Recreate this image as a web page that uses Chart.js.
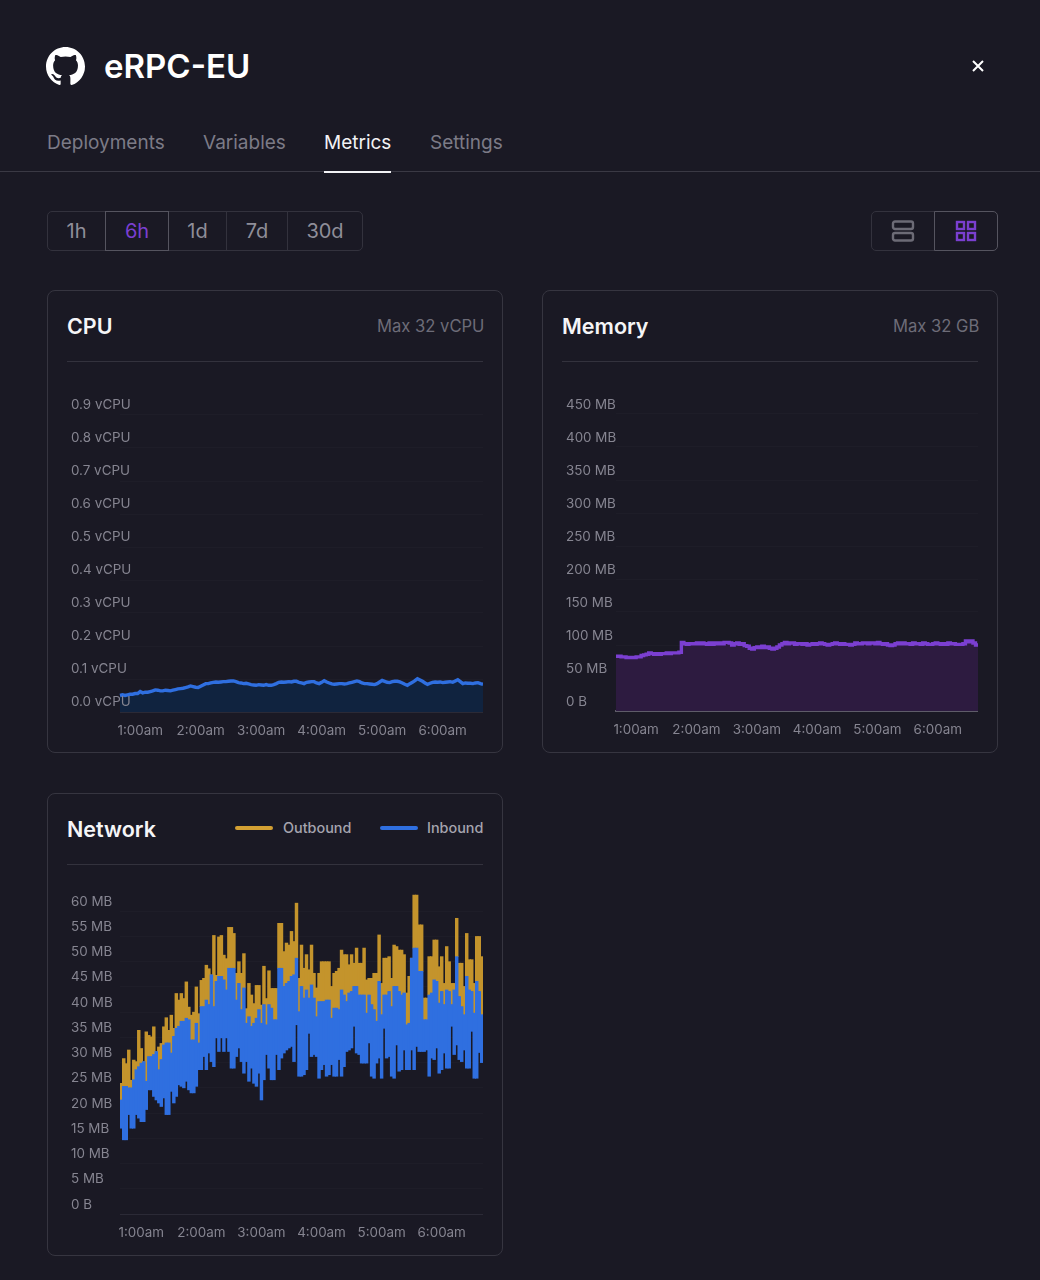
<!DOCTYPE html>
<html>
<head>
<meta charset="utf-8">
<title>eRPC-EU Metrics</title>
<script src="https://cdn.jsdelivr.net/npm/chart.js@4"></script>
<style>
  * { box-sizing: border-box; }
  html, body { margin: 0; padding: 0; }
  body { width: 1040px; height: 1280px; background: #1a1924; font-family: Inter, sans-serif; position: relative; overflow: hidden; color: #fff; }
  .abs { position: absolute; }
  .logo { left: 46px; top: 47px; width: 39px; height: 39px; fill: #fff; }
  .name { left: 104px; top: 45px; font-size: 33px; line-height: 42px; font-weight: 600; }
  .close { left: 971px; top: 59px; width: 14px; height: 14px; stroke: #fff; stroke-width: 2; }
  .tab { top: 131px; font-size: 19px; line-height: 24px; color: #7c7b87; }
  .tab.on { color: #f2f2f5; }
  .tabline { left: 0; top: 171px; width: 1040px; height: 1px; background: #3a3944; }
  .tabmark { left: 324px; top: 171px; width: 67px; height: 2px; background: #f2f2f5; }
  .range { top: 211px; height: 40px; border: 1px solid #33323d; font-size: 20px; line-height: 38px; text-align: center; color: #8f8e99; }
  .range.on { border-color: #55545f; color: #7a3fd0; z-index: 1; }
  .card { border: 1px solid #363540; border-radius: 8px; }
  .title { font-size: 21.5px; line-height: 28px; font-weight: 600; color: #f5f5f7; }
  .max { font-size: 16.6px; line-height: 22px; color: #6d6c78; white-space: nowrap; overflow: hidden; }
  .rule { height: 1px; background: #33323d; }
  .legend { top: 819px; font-size: 14.4px; line-height: 18px; font-weight: 500; color: #a5a4ae; }
  .swatch { top: 826px; width: 38px; height: 4px; border-radius: 2px; }
  canvas { position: absolute; display: block; }
</style>
</head>
<body>
<svg class="abs logo" viewBox="0 0 16 16"><path d="M8 0C3.58 0 0 3.58 0 8c0 3.54 2.29 6.53 5.47 7.59.4.07.55-.17.55-.38 0-.19-.01-.82-.01-1.49-2.01.37-2.53-.49-2.69-.94-.09-.23-.48-.94-.82-1.13-.28-.15-.68-.52-.01-.53.63-.01 1.08.58 1.23.82.72 1.21 1.87.87 2.33.66.07-.52.28-.87.51-1.07-1.78-.2-3.64-.89-3.64-3.95 0-.87.31-1.59.82-2.15-.08-.2-.36-1.02.08-2.12 0 0 .67-.21 2.2.82.64-.18 1.32-.27 2-.27.68 0 1.36.09 2 .27 1.53-1.04 2.2-.82 2.2-.82.44 1.1.16 1.92.08 2.12.51.56.82 1.27.82 2.15 0 3.07-1.87 3.75-3.65 3.95.29.25.54.73.54 1.48 0 1.07-.01 1.93-.01 2.2 0 .21.15.46.55.38A8.013 8.013 0 0016 8c0-4.42-3.58-8-8-8z"/></svg>
<div class="abs name">eRPC-EU</div>
<svg class="abs close" viewBox="0 0 14 14"><path d="M2 2L12 12M12 2L2 12"/></svg>

<div class="abs tab" style="left:47px">Deployments</div>
<div class="abs tab" style="left:203px">Variables</div>
<div class="abs tab on" style="left:324px">Metrics</div>
<div class="abs tab" style="left:430px">Settings</div>
<div class="abs tabline"></div>
<div class="abs tabmark"></div>

<div class="abs range" style="left:47px;width:59px;border-radius:5px 0 0 5px">1h</div>
<div class="abs range on" style="left:105px;width:64px">6h</div>
<div class="abs range" style="left:168px;width:59px">1d</div>
<div class="abs range" style="left:226px;width:62px">7d</div>
<div class="abs range" style="left:287px;width:76px;border-radius:0 5px 5px 0"><span>30d</span></div>

<div class="abs range" style="left:871px;width:64px;border-radius:5px 0 0 5px"></div>
<div class="abs range on" style="left:934px;width:64px;border-radius:0 5px 5px 0"></div>
<svg class="abs" style="left:891px;top:220px;z-index:2" width="24" height="22" fill="none" stroke="#6c6b76" stroke-width="2.4"><rect x="2" y="1.5" width="20" height="7.5" rx="2"/><rect x="2" y="13" width="20" height="7.5" rx="2"/></svg>
<svg class="abs" style="left:955px;top:220px;z-index:2" width="22" height="22" fill="none" stroke="#7a3fd0" stroke-width="2.4"><rect x="2" y="2" width="7" height="7"/><rect x="13" y="2" width="7" height="7"/><rect x="2" y="13" width="7" height="7"/><rect x="13" y="13" width="7" height="7"/></svg>

<div class="abs card" style="left:47px;top:290px;width:456px;height:463px"></div>
<div class="abs title" style="left:67px;top:312px">CPU</div>
<div class="abs max" style="left:377px;top:315px;width:108px">Max 32 vCPU</div>
<div class="abs rule" style="left:67px;top:361px;width:416px"></div>
<canvas id="cpuChart" width="412" height="358" style="left:71px;top:382px"></canvas>

<div class="abs card" style="left:542px;top:290px;width:456px;height:463px"></div>
<div class="abs title" style="left:562px;top:312px">Memory</div>
<div class="abs max" style="left:893px;top:315px;width:85.5px">Max 32 GB</div>
<div class="abs rule" style="left:562px;top:361px;width:416px"></div>
<canvas id="memoryChart" width="412" height="358" style="left:566px;top:381px"></canvas>

<div class="abs card" style="left:47px;top:793px;width:456px;height:463px"></div>
<div class="abs title" style="left:67px;top:815px">Network</div>
<div class="abs swatch" style="left:235px;background:#d3a033"></div>
<div class="abs legend" style="left:283px">Outbound</div>
<div class="abs swatch" style="left:380px;background:#2f6fe0"></div>
<div class="abs legend" style="left:427px">Inbound</div>
<div class="abs rule" style="left:67px;top:864px;width:416px"></div>
<canvas id="networkChart" width="412" height="356" style="left:71px;top:886px"></canvas>

<script>
// all three charts share the same 145 samples, 2.5 minutes apart, first at 12:40am
const hourLabels = ['1:00am', '2:00am', '3:00am', '4:00am', '5:00am', '6:00am']
const firstHourIndex = 8
const samplesPerHour = 24

const cpuTickLabels = ['0.0 vCPU', '0.1 vCPU', '0.2 vCPU', '0.3 vCPU', '0.4 vCPU', '0.5 vCPU', '0.6 vCPU', '0.7 vCPU', '0.8 vCPU', '0.9 vCPU']
const memoryTickLabels = ['0 B', '50 MB', '100 MB', '150 MB', '200 MB', '250 MB', '300 MB', '350 MB', '400 MB', '450 MB']
const networkTickLabels = ['0 B', '5 MB', '10 MB', '15 MB', '20 MB', '25 MB', '30 MB', '35 MB', '40 MB', '45 MB', '50 MB', '55 MB', '60 MB']

// vCPU
const cpuValues = [
  .050, .052, .050, .052, .054, .054, .056, .056, .062, .058,
  .060, .060, .062, .064, .067, .066, .064, .064, .066, .065,
  .064, .066, .068, .070, .071, .072, .074, .076, .079, .077,
  .075, .074, .078, .082, .086, .086, .088, .090, .091, .090,
  .091, .092, .092, .093, .094, .094, .092, .089, .088, .086,
  .087, .085, .083, .082, .081, .083, .082, .081, .083, .081,
  .081, .083, .086, .090, .091, .090, .091, .092, .091, .093,
  .093, .090, .088, .086, .090, .091, .092, .092, .088, .086,
  .090, .095, .091, .088, .085, .084, .085, .086, .086, .085,
  .086, .088, .090, .092, .094, .092, .088, .086, .086, .085,
  .084, .083, .086, .091, .096, .093, .090, .089, .092, .093,
  .093, .091, .088, .084, .081, .086, .090, .095, .101, .097,
  .093, .088, .084, .087, .090, .091, .090, .091, .089, .090,
  .091, .092, .090, .094, .098, .092, .086, .088, .087, .087,
  .086, .088, .089, .086, .084
]

// MB
const memoryValues = [
  83, 83, 82, 82, 81, 81, 81, 81, 82, 82,
  84, 85, 86, 88, 87, 86, 87, 86, 87, 87,
  88, 87, 88, 88, 88, 89, 104, 102, 101, 102,
  102, 102, 103, 102, 103, 102, 101, 103, 101, 103,
  102, 103, 102, 104, 104, 103, 100, 102, 103, 101,
  102, 99, 98, 95, 94, 96, 97, 96, 98, 96,
  97, 95, 94, 95, 97, 100, 102, 104, 102, 103,
  103, 101, 102, 102, 101, 102, 100, 101, 102, 101,
  102, 103, 102, 101, 100, 101, 102, 103, 102, 101,
  102, 101, 101, 100, 101, 103, 102, 102, 103, 103,
  102, 103, 103, 102, 104, 102, 101, 102, 100, 99,
  100, 102, 103, 102, 103, 102, 102, 101, 103, 102,
  102, 101, 103, 102, 101, 101, 102, 103, 102, 101,
  102, 101, 103, 102, 102, 101, 101, 101, 102, 106,
  105, 106, 103, 100, 99
]

// MB, bottom and top of each inbound bar, top of each outbound bar
const inboundLow = [
  17.0, 14.7, 14.7, 19.7, 17.0, 17.0, 19.7, 19.0, 18.3, 18.3,
  20.7, 24.6, 24.6, 23.3, 22.6, 22.0, 21.3, 23.0, 19.7, 19.7,
  24.3, 22.0, 23.3, 25.6, 25.3, 25.0, 26.3, 24.6, 24.0, 24.0,
  25.3, 28.6, 28.6, 31.2, 28.6, 31.9, 30.2, 29.2, 34.9, 32.2,
  34.9, 32.2, 34.9, 32.2, 28.9, 28.9, 31.2, 32.9, 30.2, 27.9,
  30.2, 26.3, 28.9, 25.9, 25.3, 27.9, 22.6, 26.6, 31.6, 28.9,
  26.6, 26.6, 31.6, 28.6, 30.9, 31.9, 32.5, 32.9, 33.2, 30.2,
  37.5, 27.3, 27.3, 27.6, 28.6, 35.8, 31.2, 31.6, 31.2, 26.9,
  28.6, 29.6, 27.3, 27.6, 29.6, 27.3, 27.3, 30.6, 27.3, 29.2,
  32.2, 32.5, 32.9, 37.2, 31.9, 31.6, 29.9, 29.9, 29.9, 33.9,
  27.3, 26.9, 29.9, 30.9, 26.9, 36.8, 30.9, 31.2, 27.3, 26.9,
  33.5, 28.3, 28.6, 32.5, 28.6, 28.6, 32.5, 28.6, 33.2, 32.2,
  32.2, 32.2, 32.5, 27.3, 30.9, 30.6, 32.9, 27.9, 28.6, 31.9,
  28.9, 28.9, 37.2, 31.6, 33.5, 30.6, 30.2, 32.5, 28.9, 28.9,
  36.2, 26.9, 26.9, 32.0, 30.0
]
const inboundHigh = [
  22.6, 25.3, 25.3, 25.0, 25.0, 26.6, 28.6, 29.2, 29.9, 30.2,
  26.3, 31.2, 31.2, 31.6, 32.2, 28.6, 30.6, 33.5, 33.9, 33.9,
  31.9, 35.2, 36.8, 37.2, 38.2, 38.2, 38.8, 38.5, 34.5, 34.5,
  37.8, 33.9, 41.1, 41.1, 42.4, 41.5, 47.4, 41.1, 46.1, 47.1,
  47.1, 46.4, 44.4, 48.7, 48.7, 48.7, 42.4, 45.7, 40.5, 44.8,
  37.8, 39.1, 37.2, 37.8, 38.8, 40.5, 37.8, 41.5, 37.5, 41.5,
  40.8, 38.5, 38.5, 48.7, 48.7, 45.1, 45.7, 46.1, 47.1, 47.4,
  50.7, 40.1, 45.1, 42.8, 44.4, 42.8, 45.4, 42.8, 39.1, 42.1,
  42.1, 42.1, 42.4, 42.4, 38.8, 40.8, 40.8, 40.5, 44.4, 43.4,
  42.1, 43.8, 44.1, 45.1, 45.1, 43.4, 43.4, 43.4, 39.8, 43.4,
  41.5, 40.5, 38.2, 46.1, 39.5, 43.4, 43.4, 44.1, 41.1, 45.1,
  45.1, 44.1, 43.4, 43.8, 37.5, 37.8, 50.7, 52.7, 52.7, 48.1,
  48.1, 38.5, 38.5, 43.4, 43.8, 46.4, 46.1, 41.8, 44.1, 41.5,
  44.4, 44.1, 41.5, 44.4, 51.0, 43.1, 41.1, 39.5, 47.1, 44.4,
  44.1, 39.8, 46.1, 44.1, 39.5
]
const outboundHigh = [
  25.9, 30.8, 29.8, 32.5, 26.5, 30.5, 30.2, 36.4, 32.8, 30.2,
  36.1, 35.4, 35.1, 37.1, 31.8, 33.1, 33.8, 37.1, 38.9, 36.4,
  39.4, 36.8, 43.7, 42.4, 43.7, 42.7, 46.0, 41.0, 39.4, 40.0,
  45.0, 39.7, 46.3, 46.7, 49.3, 48.6, 47.3, 55.2, 47.3, 54.9,
  55.2, 51.3, 50.6, 56.8, 56.8, 55.6, 47.7, 50.0, 47.7, 51.6,
  40.7, 45.7, 43.4, 41.7, 45.3, 45.3, 41.4, 49.1, 42.7, 48.2,
  44.7, 44.7, 44.7, 57.6, 57.6, 52.0, 53.7, 53.3, 56.0, 54.0,
  61.6, 46.7, 53.3, 48.7, 51.4, 48.4, 53.3, 47.7, 44.8, 47.7,
  50.0, 50.0, 50.0, 50.0, 45.1, 47.7, 48.1, 48.7, 52.3, 51.4,
  51.4, 49.4, 51.4, 49.7, 52.7, 49.7, 49.7, 52.7, 46.4, 46.7,
  46.7, 47.7, 47.7, 55.3, 45.7, 50.7, 50.7, 51.0, 46.7, 53.3,
  53.0, 52.3, 52.3, 51.4, 43.8, 47.1, 47.1, 63.2, 63.2, 57.3,
  57.3, 42.8, 42.8, 51.0, 51.0, 54.3, 54.3, 49.0, 51.0, 45.7,
  53.0, 50.0, 45.7, 45.7, 58.6, 49.7, 49.7, 45.1, 55.6, 50.4,
  50.4, 45.7, 55.0, 55.0, 51.0
]

const sampleIndexes = cpuValues.map((_, i) => i)

Chart.defaults.font.family = 'Inter, sans-serif'
Chart.defaults.font.size = 13.4
Chart.defaults.color = '#868591'

function xAxis(offset, borderColor, borderWidth) {
  return {
    offset: offset,
    grid: { display: false },
    border: { color: borderColor, width: borderWidth },
    afterFit: scale => { scale.height = 28 },
    ticks: {
      autoSkip: false,
      maxRotation: 0,
      padding: 3,
      callback: (value, i) => hourLabels[(i - firstHourIndex) / samplesPerHour]
    }
  }
}

function yAxis(tickLabels, max, step, yAxisWidth, labelOffset) {
  return {
    min: 0,
    max: max,
    grid: {
      drawTicks: false,
      color: ctx => ctx.index < tickLabels.length ? '#1e1d28' : 'transparent'
    },
    border: { display: false },
    afterFit: scale => { scale.width = yAxisWidth },
    ticks: {
      stepSize: step,
      autoSkip: false,
      includeBounds: false,
      mirror: true,
      crossAlign: 'near',
      padding: -yAxisWidth, // labels sit left of the plot, over the axis box
      labelOffset: labelOffset,
      z: 1,
      callback: (value, i) => tickLabels[i]
    }
  }
}

function areaChart(id, values, tickLabels, max, step, yAxisWidth, labelOffset, color, fillColor, stepped, borderColor, borderWidth) {
  new Chart(document.getElementById(id), {
    type: 'line',
    data: {
      labels: sampleIndexes,
      datasets: [{
        data: values,
        borderColor: color,
        backgroundColor: fillColor,
        borderWidth: 3.4,
        pointRadius: 0,
        stepped: stepped,
        fill: 'origin'
      }]
    },
    options: {
      responsive: false,
      animation: false,
      layout: { autoPadding: false },
      plugins: { legend: { display: false }, tooltip: { enabled: false } },
      scales: {
        x: xAxis(false, borderColor, borderWidth),
        y: yAxis(tickLabels, max, step, yAxisWidth, labelOffset)
      }
    }
  })
}

areaChart('cpuChart', cpuValues, cpuTickLabels, 1, 0.1, 49, -10, '#2f6fe0', '#10233f', false, '#2b2a36', 1)
areaChart('memoryChart', memoryValues, memoryTickLabels, 500, 50, 50, -9, '#7b3fd1', '#2d1b40', true, '#5e5c69', 2)

new Chart(document.getElementById('networkChart'), {
  type: 'bar',
  data: {
    labels: sampleIndexes,
    datasets: [
      {
        label: 'Outbound',
        data: sampleIndexes.map(i => [inboundHigh[i], outboundHigh[i]]),
        backgroundColor: '#c4942c',
        order: 1,
        grouped: false
      },
      {
        label: 'Inbound',
        data: sampleIndexes.map(i => [inboundLow[i], inboundHigh[i]]),
        backgroundColor: '#2f6fe0',
        order: 0,
        grouped: false
      }
    ]
  },
  options: {
    responsive: false,
    animation: false,
    barPercentage: 1,
    categoryPercentage: 1,
    barThickness: 2.8,
    layout: { autoPadding: false },
    plugins: { legend: { display: false }, tooltip: { enabled: false } },
    scales: {
      x: xAxis(true, '#2b2a36', 1),
      y: yAxis(networkTickLabels, 65, 5, 49, -9.5)
    }
  }
})
</script>
</body>
</html>
